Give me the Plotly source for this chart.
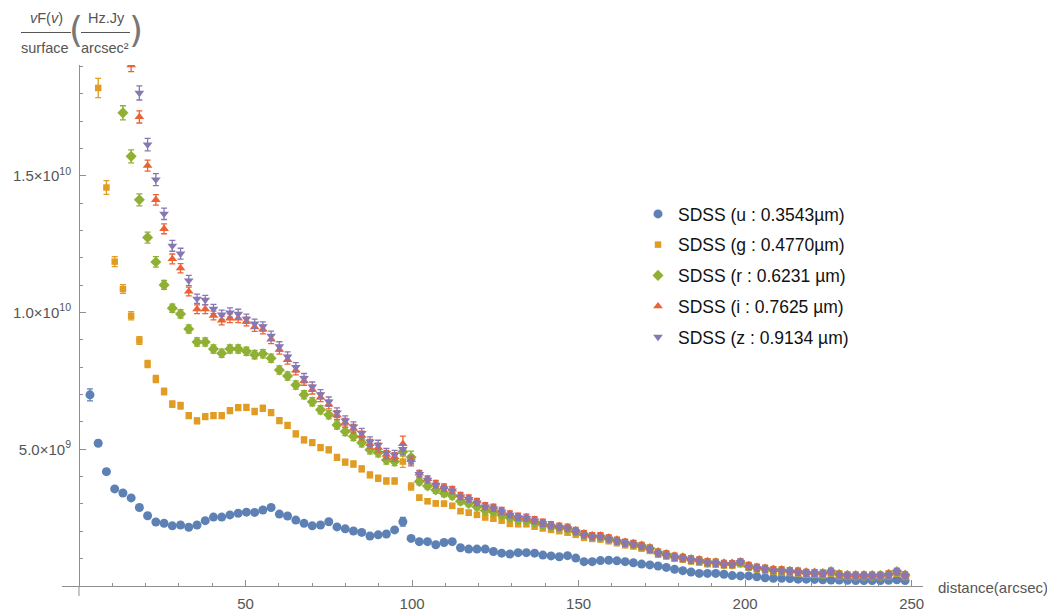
import plotly.graph_objects as go

# ---------------- data (flux values in units of 1e9, errors in units of 1e8) ----------------
SCALE = 1e9
ESCALE = 1e8
N = 100
# radial bin centres (arcsec), evenly spaced bins
distance = [round(3.3 + 2.472 * k, 2) for k in range(N)]

u_vals = [6.99, 5.22, 4.18, 3.55, 3.40, 3.22, 2.87, 2.57, 2.34, 2.29,
          2.20, 2.23, 2.15, 2.23, 2.39, 2.52, 2.52, 2.60, 2.66, 2.70,
          2.69, 2.78, 2.87, 2.63, 2.56, 2.41, 2.29, 2.20, 2.23, 2.35,
          2.16, 2.09, 2.01, 1.96, 1.83, 1.87, 1.90, 2.05, 2.35, 1.74,
          1.62, 1.62, 1.51, 1.59, 1.62, 1.40, 1.35, 1.35, 1.35, 1.26,
          1.20, 1.17, 1.22, 1.22, 1.20, 1.13, 1.10, 1.07, 1.11, 1.02,
          0.89, 0.89, 0.93, 0.94, 0.92, 0.89, 0.85, 0.80, 0.77, 0.73,
          0.68, 0.61, 0.56, 0.51, 0.46, 0.46, 0.46, 0.43, 0.38, 0.37,
          0.37, 0.34, 0.30, 0.28, 0.28, 0.27, 0.25, 0.25, 0.24, 0.23,
          0.22, 0.22, 0.21, 0.20, 0.20, 0.20, 0.20, 0.21, 0.23, 0.20]

g_vals = [None, 18.21, 14.57, 11.86, 10.86, 9.88, 8.98, 8.12, 7.57, 7.11,
          6.65, 6.59, 6.23, 6.04, 6.19, 6.23, 6.23, 6.41, 6.52, 6.53,
          6.38, 6.50, 6.34, 6.05, 5.87, 5.56, 5.34, 5.24, 5.06, 4.98,
          4.70, 4.53, 4.46, 4.28, 4.06, 3.94, 3.84, 3.84, 4.55, 3.64,
          3.23, 3.10, 3.02, 3.01, 2.93, 2.74, 2.68, 2.60, 2.51, 2.46,
          2.39, 2.27, 2.26, 2.26, 2.17, 2.11, 2.05, 2.01, 1.95, 1.87,
          1.76, 1.72, 1.70, 1.64, 1.57, 1.49, 1.45, 1.37, 1.28, 1.15,
          1.08, 1.00, 0.96, 0.90, 0.86, 0.80, 0.78, 0.75, 0.74, 0.80,
          0.67, 0.61, 0.57, 0.52, 0.51, 0.48, 0.46, 0.42, 0.42, 0.40,
          0.46, 0.36, 0.34, 0.34, 0.33, 0.33, 0.33, 0.36, 0.46, 0.33]

r_vals = [None, None, None, None, 17.30, 15.71, 14.12, 12.74, 11.85, 11.01,
          10.16, 9.95, 9.40, 8.92, 8.92, 8.67, 8.51, 8.67, 8.67, 8.58,
          8.46, 8.49, 8.33, 7.90, 7.68, 7.35, 6.99, 6.74, 6.44, 6.26,
          5.89, 5.65, 5.47, 5.24, 4.98, 4.87, 4.61, 4.55, 4.91, 4.71,
          3.82, 3.66, 3.51, 3.39, 3.30, 3.10, 3.02, 2.90, 2.76, 2.71,
          2.60, 2.50, 2.42, 2.40, 2.32, 2.24, 2.18, 2.13, 2.10, 1.99,
          1.88, 1.81, 1.80, 1.73, 1.65, 1.57, 1.53, 1.46, 1.37, 1.22,
          1.15, 1.07, 1.03, 0.97, 0.93, 0.87, 0.85, 0.81, 0.80, 0.86,
          0.72, 0.66, 0.62, 0.58, 0.57, 0.54, 0.52, 0.48, 0.47, 0.46,
          0.53, 0.42, 0.39, 0.38, 0.38, 0.38, 0.38, 0.43, 0.53, 0.40]

i_vals = [None, None, None, None, None, 19.05, 17.15, 15.37, 14.12, 13.06,
          11.96, 11.62, 10.77, 10.12, 10.12, 9.89, 9.71, 9.79, 9.79, 9.67,
          9.47, 9.38, 9.02, 8.64, 8.27, 7.88, 7.50, 7.18, 6.90, 6.64,
          6.25, 5.97, 5.75, 5.50, 5.20, 5.06, 4.80, 4.72, 5.20, 4.61,
          4.12, 3.92, 3.75, 3.62, 3.53, 3.31, 3.22, 3.09, 2.94, 2.88,
          2.76, 2.64, 2.55, 2.52, 2.43, 2.33, 2.24, 2.19, 2.15, 2.03,
          1.91, 1.84, 1.84, 1.76, 1.68, 1.60, 1.56, 1.48, 1.38, 1.24,
          1.17, 1.09, 1.05, 0.99, 0.95, 0.89, 0.87, 0.83, 0.82, 0.88,
          0.75, 0.69, 0.65, 0.60, 0.59, 0.56, 0.54, 0.50, 0.49, 0.47,
          0.53, 0.43, 0.40, 0.40, 0.40, 0.40, 0.40, 0.43, 0.52, 0.40]

z_vals = [None, None, None, None, None, None, 18.03, 16.14, 14.86, 13.61,
          12.44, 12.15, 11.17, 10.50, 10.46, 10.13, 9.92, 10.00, 9.95, 9.77,
          9.59, 9.49, 9.15, 8.76, 8.39, 8.00, 7.60, 7.29, 7.01, 6.74,
          6.34, 6.05, 5.83, 5.59, 5.28, 5.16, 4.86, 4.79, 5.00, 4.55,
          4.09, 3.88, 3.70, 3.57, 3.49, 3.27, 3.18, 3.05, 2.90, 2.84,
          2.72, 2.60, 2.51, 2.48, 2.39, 2.29, 2.20, 2.15, 2.11, 1.99,
          1.87, 1.80, 1.80, 1.72, 1.64, 1.56, 1.52, 1.44, 1.34, 1.20,
          1.13, 1.05, 1.01, 0.95, 0.91, 0.85, 0.83, 0.79, 0.79, 0.87,
          0.71, 0.65, 0.61, 0.56, 0.55, 0.52, 0.50, 0.46, 0.46, 0.44,
          0.52, 0.40, 0.37, 0.37, 0.37, 0.37, 0.37, 0.40, 0.52, 0.37]

u_err = [2.2, 1.0, 0.8, 0.8, 0.8, 0.8, 0.8, 0.8, 0.8, 0.8,
         0.7, 0.7, 0.7, 0.7, 0.7, 0.7, 0.7, 0.7, 0.7, 0.7,
         0.7, 0.7, 0.7, 0.7, 0.7, 0.7, 0.7, 0.7, 0.7, 0.7,
         0.7, 0.7, 0.7, 0.7, 0.7, 0.7, 0.7, 0.7, 1.6, 0.7,
         0.5, 0.5, 0.5, 0.5, 0.5, 0.5, 0.5, 0.5, 0.5, 0.5,
         0.5, 0.5, 0.5, 0.5, 0.5, 0.5, 0.5, 0.5, 0.5, 0.5,
         0.5, 0.5, 0.5, 0.5, 0.5, 0.5, 0.5, 0.5, 0.5, 0.5,
         0.5, 0.5, 0.5, 0.5, 0.5, 0.5, 0.5, 0.5, 0.5, 0.5,
         0.5, 0.5, 0.5, 0.5, 0.5, 0.5, 0.5, 0.5, 0.5, 0.5,
         0.5, 0.5, 0.5, 0.5, 0.5, 0.5, 0.5, 0.5, 0.5, 0.5]

g_err = [0.0, 3.5, 2.5, 1.8, 1.6, 1.5, 1.4, 1.3, 1.3, 1.2,
         1.2, 1.2, 1.1, 1.1, 1.1, 1.1, 1.1, 1.1, 1.1, 1.1,
         1.1, 1.1, 1.1, 1.1, 1.1, 1.1, 1.1, 1.1, 1.1, 1.1,
         1.1, 1.1, 1.1, 1.1, 1.1, 1.1, 1.1, 1.1, 2.1, 1.3,
         0.9, 0.9, 0.9, 0.9, 0.9, 0.9, 0.9, 0.9, 0.9, 0.9,
         0.9, 0.9, 0.9, 0.9, 0.9, 0.9, 0.9, 0.9, 0.9, 0.9,
         0.9, 0.9, 0.9, 0.9, 0.9, 0.9, 0.9, 0.9, 0.9, 0.9,
         0.9, 0.9, 0.9, 0.9, 0.9, 0.9, 0.9, 0.9, 0.9, 0.9,
         0.9, 0.9, 0.9, 0.9, 0.9, 0.9, 0.9, 0.9, 0.9, 0.9,
         0.9, 0.9, 0.9, 0.9, 0.9, 0.9, 0.9, 0.9, 0.9, 0.9]

r_err = [0.0, 0.0, 0.0, 0.0, 2.6, 2.4, 2.2, 2.0, 1.9, 1.6,
         1.5, 1.5, 1.5, 1.5, 1.5, 1.5, 1.5, 1.5, 1.5, 1.5,
         1.5, 1.5, 1.5, 1.5, 1.5, 1.5, 1.5, 1.5, 1.5, 1.5,
         1.5, 1.5, 1.5, 1.5, 1.5, 1.5, 1.5, 1.5, 1.5, 2.2,
         1.2, 1.2, 1.2, 1.2, 1.2, 1.2, 1.2, 1.2, 1.2, 1.2,
         1.2, 1.2, 1.2, 1.2, 1.2, 1.2, 1.2, 1.2, 1.2, 1.2,
         1.2, 1.2, 1.2, 1.2, 1.2, 1.2, 1.2, 1.2, 1.2, 1.2,
         1.2, 1.2, 1.2, 1.2, 1.2, 1.2, 1.2, 1.2, 1.2, 1.2,
         1.2, 1.2, 1.2, 1.2, 1.2, 1.2, 1.2, 1.2, 1.2, 1.2,
         1.2, 1.2, 1.2, 1.2, 1.2, 1.2, 1.2, 1.2, 1.2, 1.2]

i_err = [0.0, 0.0, 0.0, 0.0, 0.0, 2.4, 2.2, 2.0, 1.9, 1.8,
         1.8, 1.7, 1.6, 1.6, 1.6, 1.6, 1.6, 1.6, 1.6, 1.6,
         1.6, 1.6, 1.6, 1.6, 1.6, 1.6, 1.6, 1.6, 1.6, 1.6,
         1.6, 1.6, 1.6, 1.6, 1.6, 1.6, 1.6, 1.6, 2.8, 1.5,
         1.1, 1.1, 1.1, 1.1, 1.1, 1.1, 1.1, 1.1, 1.1, 1.1,
         1.1, 1.1, 1.1, 1.1, 1.1, 1.1, 1.1, 1.1, 1.1, 1.1,
         1.1, 1.1, 1.1, 1.1, 1.1, 1.1, 1.1, 1.1, 1.1, 1.1,
         1.1, 1.1, 1.1, 1.1, 1.1, 1.1, 1.1, 1.1, 1.1, 1.1,
         1.1, 1.1, 1.1, 1.1, 1.1, 1.1, 1.1, 1.1, 1.1, 1.1,
         1.1, 1.1, 1.1, 1.1, 1.1, 1.1, 1.1, 1.1, 1.1, 1.1]

z_err = [0.0, 0.0, 0.0, 0.0, 0.0, 0.0, 2.6, 2.3, 2.2, 2.1,
         2.0, 2.0, 1.9, 1.7, 1.7, 1.7, 1.7, 1.7, 1.7, 1.7,
         1.7, 1.7, 1.7, 1.7, 1.7, 1.7, 1.7, 1.7, 1.7, 1.7,
         1.7, 1.7, 1.7, 1.7, 1.7, 1.7, 1.7, 1.7, 1.8, 1.6,
         1.1, 1.1, 1.1, 1.1, 1.1, 1.1, 1.1, 1.1, 1.1, 1.1,
         1.1, 1.1, 1.1, 1.1, 1.1, 1.1, 1.1, 1.1, 1.1, 1.1,
         1.1, 1.1, 1.1, 1.1, 1.1, 1.1, 1.1, 1.1, 1.1, 1.1,
         1.1, 1.1, 1.1, 1.1, 1.1, 1.1, 1.1, 1.1, 1.1, 1.1,
         1.1, 1.1, 1.1, 1.1, 1.1, 1.1, 1.1, 1.1, 1.1, 1.1,
         1.1, 1.1, 1.1, 1.1, 1.1, 1.1, 1.1, 1.1, 1.1, 1.1]

series_names = ["SDSS (u : 0.3543µm)", "SDSS (g : 0.4770µm)", "SDSS (r : 0.6231 µm)",
                "SDSS (i : 0.7625 µm)", "SDSS (z : 0.9134 µm)"]
series_vals = [u_vals, g_vals, r_vals, i_vals, z_vals]
series_errs = [u_err, g_err, r_err, i_err, z_err]
series_colors = ["#5E81B5", "#E19C24", "#8FB032", "#EB6235", "#8778B3"]
series_symbols = ["circle", "square", "diamond", "triangle-up", "triangle-down"]
series_sizes = [9, 6.5, 8.5, 8.5, 8.5]

x_major = [50, 100, 150, 200, 250]
x_minor = [10, 20, 30, 40, 60, 70, 80, 90, 110, 120, 130, 140, 160, 170, 180, 190,
           210, 220, 230, 240]
y_major = [5e9, 1e10, 1.5e10]
y_major_text = ["5.0×10<sup>9</sup>", "1.0×10<sup>10</sup>", "1.5×10<sup>10</sup>"]
y_minor = [1e9, 2e9, 3e9, 4e9, 6e9, 7e9, 8e9, 9e9, 1.1e10, 1.2e10, 1.3e10, 1.4e10,
           1.6e10, 1.7e10, 1.8e10, 1.9e10]

# ---------------- figure ----------------
W, H = 1047, 612
ML, MR, MT, MB = 62, 124, 65, 26
X_RANGE = [-5.1, 253.4]
Y_RANGE = [0, 19.05e9]
AXIS_COL = "#8f8f8f"
LABEL_COL = "#555555"
FONT = "Liberation Sans, Arial, sans-serif"

fig = go.Figure()
for name, vals, errs, col, sym, size in zip(series_names, series_vals, series_errs,
                                             series_colors, series_symbols, series_sizes):
    y = [None if v is None else v * SCALE for v in vals]
    e = [ev * ESCALE for ev in errs]
    fig.add_trace(go.Scatter(
        x=distance, y=y, mode="markers", name=name, legendgroup=name,
        marker=dict(symbol=sym, size=size, color=col, line=dict(width=0)),
        error_y=dict(type="data", array=e, visible=True, color=col,
                     thickness=1.3, width=3),
    ))

pw = W - ML - MR
ph = H - MT - MB
yaxis_pos = (0 - X_RANGE[0]) / (X_RANGE[1] - X_RANGE[0])

fig.update_layout(
    width=W, height=H,
    margin=dict(l=ML, r=MR, t=MT, b=MB, autoexpand=False),
    paper_bgcolor="white", plot_bgcolor="white",
    font=dict(family=FONT, color=LABEL_COL),
    showlegend=True,
    legend=dict(x=(638 - ML) / pw, y=(MT + ph - 196) / ph, xanchor="left", yanchor="top",
                font=dict(size=17.5, color="#111111", family=FONT),
                bgcolor="rgba(0,0,0,0)", tracegroupgap=5, itemsizing="trace"),
    xaxis=dict(range=X_RANGE, showgrid=False, zeroline=False, showline=True,
               automargin=False,
               linecolor=AXIS_COL, linewidth=1, ticks="inside", ticklen=6,
               tickcolor=AXIS_COL, tickmode="array", tickvals=x_major,
               ticktext=[str(v) for v in x_major], ticklabelstandoff=4,
               tickfont=dict(size=15, color=LABEL_COL),
               minor=dict(tickmode="array", tickvals=x_minor, ticks="inside",
                          ticklen=3, tickcolor=AXIS_COL),
               fixedrange=True),
    yaxis=dict(range=Y_RANGE, anchor="free", position=yaxis_pos, showgrid=False,
               automargin=False,
               zeroline=False, showline=True, linecolor=AXIS_COL, linewidth=1,
               ticks="inside", ticklen=6, tickcolor=AXIS_COL, tickmode="array",
               tickvals=y_major, ticktext=y_major_text, ticklabelstandoff=5,
               tickfont=dict(size=15, color=LABEL_COL),
               minor=dict(tickmode="array", tickvals=y_minor, ticks="inside",
                          ticklen=3, tickcolor=AXIS_COL),
               fixedrange=True),
)

# y-axis line extends a little below the x-axis (Mathematica style)
fig.add_shape(type="line", xref="x", yref="paper", x0=0, x1=0, y0=-10 / ph, y1=0,
              line=dict(color=AXIS_COL, width=1))


def px2paper(px, py):
    return (px - ML) / pw, (MT + ph - py) / ph


# axis label for x
ax, ay = px2paper(936, 587)
fig.add_annotation(x=ax, y=ay, xref="paper", yref="paper", text="distance(arcsec)",
                   showarrow=False, xanchor="left", yanchor="middle",
                   font=dict(size=15, color=LABEL_COL, family=FONT))

# axis label for y: vF(v)/surface (Hz.Jy/arcsec²)
lab_font = dict(size=14.5, color=LABEL_COL, family=FONT)
for txt, cx, cy in [("<i>v</i>F(<i>v</i>)", 46, 18), ("surface", 45, 48),
                    ("Hz.Jy", 106, 18), ("arcsec²", 105, 48)]:
    ax, ay = px2paper(cx, cy)
    fig.add_annotation(x=ax, y=ay, xref="paper", yref="paper", text=txt,
                       showarrow=False, xanchor="center", yanchor="middle", font=lab_font)
for txt, cx in [("(", 76), (")", 136)]:
    ax, ay = px2paper(cx, 29)
    fig.add_annotation(x=ax, y=ay, xref="paper", yref="paper", text=txt,
                       showarrow=False, xanchor="center", yanchor="middle",
                       font=dict(size=36, color="#777777", family="DejaVu Sans, sans-serif"))
for x0p, x1p in [(21, 71), (81, 130)]:
    a0, b0 = px2paper(x0p, 32.5)
    a1, b1 = px2paper(x1p, 32.5)
    fig.add_shape(type="line", xref="paper", yref="paper", x0=a0, x1=a1, y0=b0, y1=b1,
                  line=dict(color=LABEL_COL, width=1))

fig.write_html("out.html")
